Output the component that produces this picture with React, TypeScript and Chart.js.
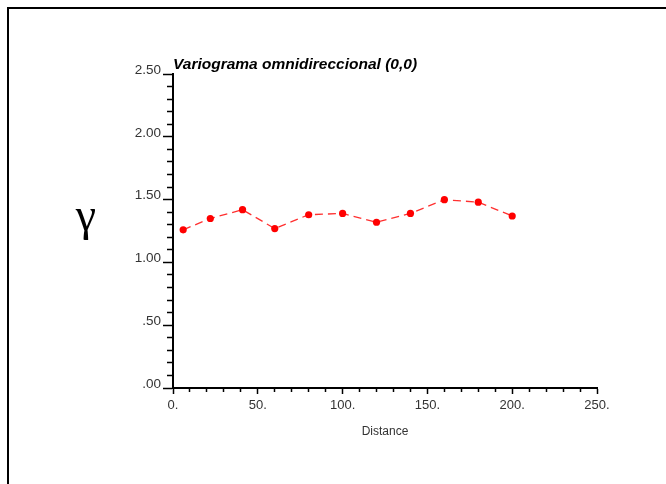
import React, { useEffect, useRef } from "react";
import { Chart, registerables } from "chart.js";

Chart.register(...registerables);

const lags: number[] = [6, 22, 41, 60, 80, 100, 120, 140, 160, 180, 200];
const gammaValues: number[] = [1.26, 1.35, 1.42, 1.27, 1.38, 1.39, 1.32, 1.39, 1.5, 1.48, 1.37];
const chartTitle = "Variograma omnidireccional (0,0)";
const xAxisTitle = "Distance";
const yAxisSymbol = "γ";
const xRange: number[] = [0, 250];
const yRange: number[] = [0, 2.5];

const isMultiple = (v: number, step: number) => Math.abs(v / step - Math.round(v / step)) < 1e-6;

const fmtY = (v: number) => {
  const s = v.toFixed(2);
  return s.startsWith("0") ? s.slice(1) : s;
};
const fmtX = (v: number) => `${Math.round(v)}.`;

const framePlugin = {
  id: "frame",
  beforeDraw(chart: any) {
    const ctx = chart.ctx;
    ctx.save();
    ctx.fillStyle = "#ffffff";
    ctx.fillRect(0, 0, chart.width, chart.height);
    ctx.fillStyle = "#000000";
    ctx.fillRect(7, 7, chart.width - 7, 2);
    ctx.fillRect(7, 7, 2, chart.height - 7);
    ctx.restore();
  },
};

const gammaPlugin = {
  id: "gammaLabel",
  afterDraw(chart: any) {
    const ctx = chart.ctx;
    ctx.save();
    ctx.fillStyle = "#000000";
    ctx.font = "46px 'Liberation Serif', 'DejaVu Serif', serif";
    ctx.textAlign = "center";
    ctx.textBaseline = "alphabetic";
    ctx.fillText(yAxisSymbol, 86, 230);
    ctx.restore();
  },
};

export default function App() {
  const canvasRef = useRef<HTMLCanvasElement | null>(null);

  useEffect(() => {
    if (!canvasRef.current) return;
    const chart = new Chart(canvasRef.current, {
      type: "line",
      data: {
        datasets: [
          {
            data: lags.map((x, i) => ({ x, y: gammaValues[i] })),
            borderColor: "#ff3030",
            borderWidth: 1.3,
            borderDash: [8, 5],
            pointRadius: 3.6,
            pointBackgroundColor: "#ff0000",
            pointBorderWidth: 0,
            fill: false,
            tension: 0,
          },
        ],
      },
      plugins: [framePlugin, gammaPlugin],
      options: {
        responsive: false,
        animation: false,
        devicePixelRatio: 1,
        layout: { padding: { left: 0, right: 69, top: 55.5, bottom: 0 } },
        plugins: {
          legend: { display: false },
          tooltip: { enabled: false },
          title: {
            display: true,
            text: chartTitle,
            align: "start",
            fullSize: false,
            color: "#000000",
            font: { family: "'Liberation Sans', Arial, sans-serif", size: 15.5, style: "italic", weight: "bold", lineHeight: 1.2 },
            padding: { top: 0, bottom: 0 },
          },
        },
        scales: {
          x: {
            type: "linear",
            min: xRange[0],
            max: xRange[1],
            afterFit(scale: any) {
              scale.height = 96;
            },
            border: { display: true, color: "#000000", width: 2 },
            grid: {
              drawOnChartArea: false,
              drawTicks: true,
              tickLength: 6,
              tickWidth: 1.5,
              tickColor: "#000000",
              tickBorderDash: (ctx: any) => (isMultiple(ctx.tick.value, 50) ? [] : [3, 100]),
            },
            ticks: {
              stepSize: 10,
              autoSkip: false,
              maxRotation: 0,
              padding: 4,
              color: "#333333",
              font: { family: "'Liberation Sans', Arial, sans-serif", size: 13 },
              callback: (v: any) => (isMultiple(Number(v), 50) ? fmtX(Number(v)) : ""),
            },
            title: {
              display: true,
              text: xAxisTitle,
              color: "#333333",
              font: { family: "'Liberation Sans', Arial, sans-serif", size: 12, lineHeight: 1.2 },
              padding: { top: 0, bottom: 45 },
            },
          },
          y: {
            type: "linear",
            min: yRange[0],
            max: yRange[1],
            afterFit(scale: any) {
              scale.width = 173;
            },
            border: { display: true, color: "#000000", width: 2 },
            grid: {
              drawOnChartArea: false,
              drawTicks: true,
              tickLength: 10,
              tickWidth: 1.5,
              tickColor: "#000000",
              tickBorderDash: (ctx: any) => (isMultiple(ctx.tick.value, 0.5) ? [] : [0, 4, 5, 100]),
            },
            ticks: {
              stepSize: 0.1,
              autoSkip: false,
              padding: 2,
              labelOffset: -4,
              color: "#333333",
              font: { family: "'Liberation Sans', Arial, sans-serif", size: 13.5 },
              callback: (v: any) => (isMultiple(Number(v), 0.5) ? fmtY(Number(v)) : ""),
            },
          },
        },
      } as any,
    });
    return () => chart.destroy();
  }, []);

  return (
    <div style={{ position: "absolute", left: 0, top: 0, width: 666, height: 484, background: "#ffffff" }}>
      <canvas ref={canvasRef} width={666} height={484} style={{ display: "block" }} />
    </div>
  );
}
